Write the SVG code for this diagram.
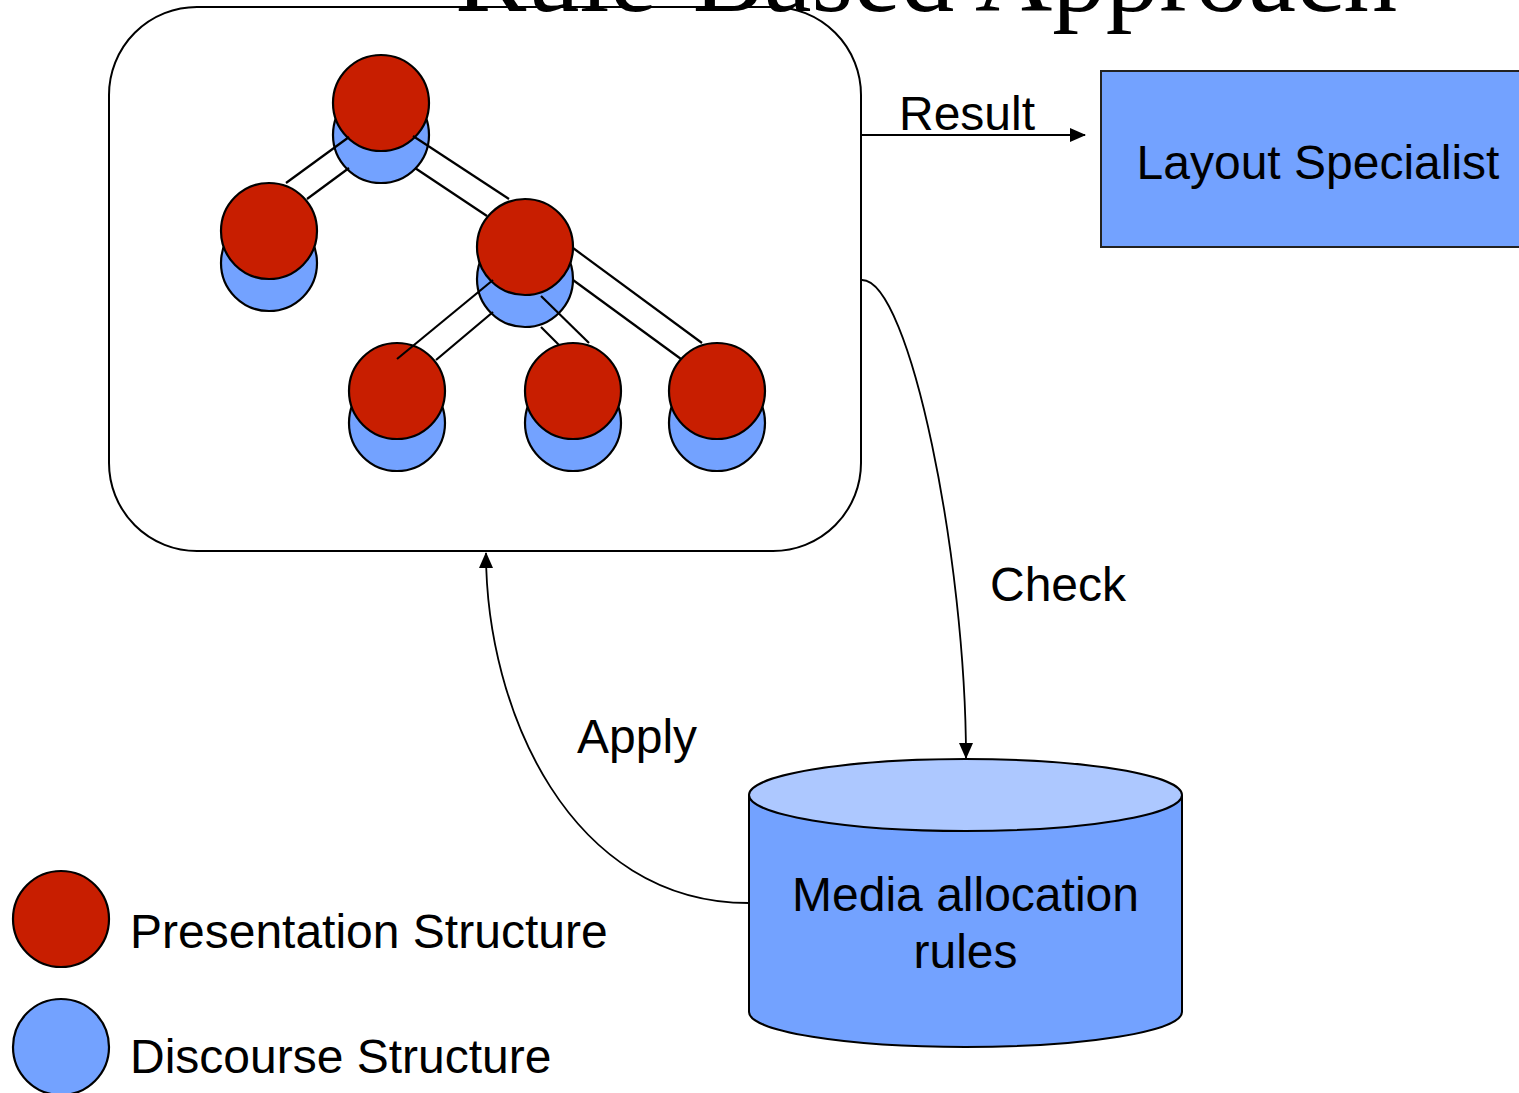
<svg xmlns="http://www.w3.org/2000/svg" width="1519" height="1093" viewBox="0 0 1519 1093">
<style>
.lbl{font-family:"Liberation Sans",Arial,sans-serif;font-size:48px;fill:#000}
.title{font-family:"Liberation Serif","Times New Roman",serif;font-size:107px;fill:#000}
.red{fill:#C81E00;stroke:#000;stroke-width:2.2}
.blue{fill:#73A2FF;stroke:#000;stroke-width:2.2}
.edge{stroke:#000;stroke-width:2.2;fill:none}
.conn{stroke:#000;stroke-width:1.8;fill:none}
</style>
<defs>
<marker id="arr" markerWidth="16" markerHeight="14" refX="15" refY="7" orient="auto" markerUnits="userSpaceOnUse">
<path d="M0,0 L16,7 L0,14 Z" fill="#000"/>
</marker>
</defs>
<rect width="1519" height="1093" fill="#fff"/>
<text class="title" x="455" y="11">Rule-Based Approach</text>

<g id="structure-box">
<rect x="109" y="7" width="752" height="544" rx="88" ry="88" fill="none" stroke="#000" stroke-width="2"/>
</g>

<g id="tree">
<g id="node-root"><circle class="blue" cx="381" cy="135" r="48"/><circle class="red" cx="381" cy="103" r="48"/></g>
<g id="node-left"><circle class="blue" cx="269" cy="263" r="48"/><circle class="red" cx="269" cy="231" r="48"/></g>
<g id="node-mid"><circle class="blue" cx="525" cy="279" r="48"/><circle class="red" cx="525" cy="247" r="48"/></g>
<g id="node-leaf1"><circle class="blue" cx="397" cy="423" r="48"/><circle class="red" cx="397" cy="391" r="48"/></g>
<g id="node-leaf2"><circle class="blue" cx="573" cy="423" r="48"/><circle class="red" cx="573" cy="391" r="48"/></g>
<g id="node-leaf3"><circle class="blue" cx="717" cy="423" r="48"/><circle class="red" cx="717" cy="391" r="48"/></g>
<g id="tree-edges">
<line class="edge" x1="286" y1="183" x2="349" y2="137"/>
<line class="edge" x1="307" y1="199" x2="349" y2="168"/>
<line class="edge" x1="413" y1="136" x2="509" y2="199"/>
<line class="edge" x1="415" y1="168" x2="487" y2="216"/>
<line class="edge" x1="493" y1="280" x2="397" y2="359"/>
<line class="edge" x1="493" y1="312" x2="436" y2="360"/>
<line class="edge" x1="541" y1="296" x2="589" y2="343"/>
<line class="edge" x1="541" y1="327" x2="559" y2="345"/>
<line class="edge" x1="573" y1="248" x2="702" y2="343"/>
<line class="edge" x1="573" y1="280" x2="681" y2="359"/>
</g>
</g>

<g id="layout-specialist">
<rect x="1101" y="71" width="430" height="176" fill="#73A2FF" stroke="#222" stroke-width="2"/>
<text class="lbl" x="1318" y="179" text-anchor="middle">Layout Specialist</text>
</g>

<g id="media-rules">
<path d="M749,795 L749,1012 A216.5,35 0 0 0 1182,1012 L1182,795" fill="#73A2FF" stroke="#000" stroke-width="2"/>
<ellipse cx="965.5" cy="795" rx="216.5" ry="36" fill="#ADC8FF" stroke="#000" stroke-width="2"/>
<text class="lbl" x="965.5" y="911" text-anchor="middle">Media allocation</text>
<text class="lbl" x="965.5" y="968" text-anchor="middle">rules</text>
</g>

<g id="legend">
<circle class="red" cx="61" cy="919" r="48"/>
<text class="lbl" x="130" y="948">Presentation Structure</text>
<circle class="blue" cx="61" cy="1047" r="48"/>
<text class="lbl" x="130" y="1073">Discourse Structure</text>
</g>

<g id="connectors">
<line class="conn" x1="862" y1="135" x2="1085" y2="135" marker-end="url(#arr)"/>
<text class="lbl" x="899" y="130">Result</text>
<path class="conn" d="M862,280 C910,280 966,560 966,758" marker-end="url(#arr)"/>
<text class="lbl" x="990" y="601">Check</text>
<path class="conn" d="M749,903 C570,903 486,710 486,553" marker-end="url(#arr)"/>
<text class="lbl" x="577" y="753">Apply</text>
</g>
</svg>
